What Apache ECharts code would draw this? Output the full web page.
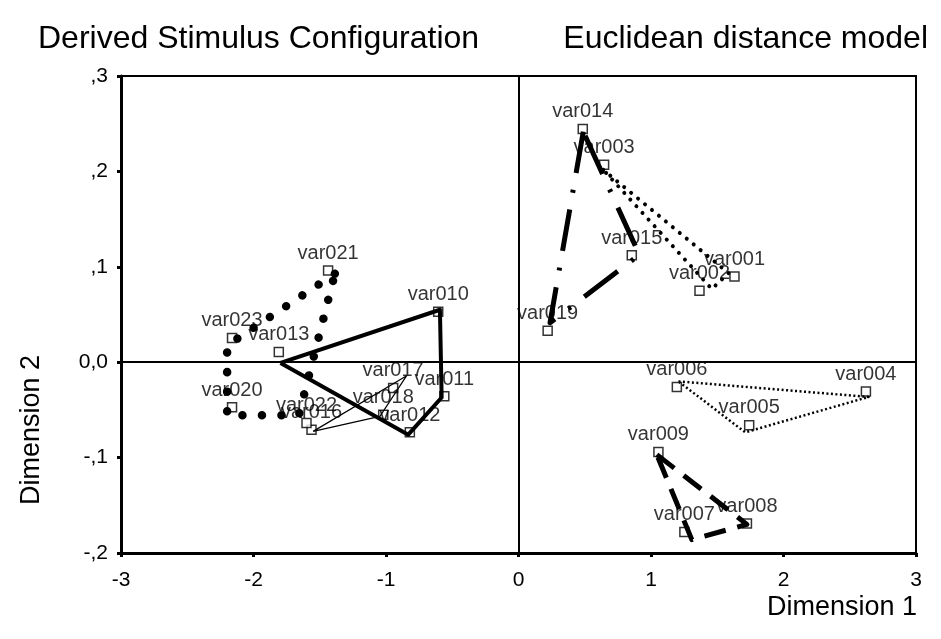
<!DOCTYPE html>
<html><head><meta charset="utf-8">
<script src="https://cdn.jsdelivr.net/npm/echarts@6/dist/echarts.min.js"></script>
<style>html,body{margin:0;padding:0;background:#fff}#c{width:941px;height:639px}</style>
</head><body><div id="c"></div>
<script>
const FONT = 'Liberation Sans';
const titleLeft = 'Derived Stimulus Configuration';
const titleRight = 'Euclidean distance model';
const xName = 'Dimension 1';
const yName = 'Dimension 2';

const pointNames = ['var001','var002','var003','var004','var005','var006','var007','var008','var009','var010','var011','var012','var013','var014','var015','var016','var017','var018','var019','var020','var021','var022','var023'];
const pointX = [1.63, 1.366, 0.646, 2.622, 1.741, 1.195, 1.252, 1.724, 1.056, -0.606, -0.56, -0.82, -1.809, 0.485, 0.855, -1.562, -0.946, -1.021, 0.22, -2.162, -1.437, -1.6, -2.162];
const pointY = [0.0898, 0.0749, 0.207, -0.0306, -0.066, -0.026, -0.178, -0.169, -0.094, 0.053, -0.0358, -0.0735, 0.0107, 0.2445, 0.112, -0.0707, -0.027, -0.055, 0.033, -0.0473, 0.096, -0.0637, 0.0253];

// hand-drawn group outlines (vertices in data units)
const groupBigDotsX = [-1.386, -2.199, -2.199, -1.658, -1.386];
const groupBigDotsY = [0.0927, 0.0176, -0.0557, -0.0557, 0.0927];
const groupThickX = [-1.796, -0.593, -0.58, -0.832, -1.796];
const groupThickY = [-0.0008, 0.055, -0.037, -0.076, -0.0008];
const groupThinX = [-1.55, -0.844, -1.046, -1.55];
const groupThinY = [-0.0725, -0.0141, -0.0568, -0.0725];
const groupDashDotX = [0.489, 0.238, 0.912, 0.489];
const groupDashDotY = [0.2417, 0.0414, 0.1126, 0.2417];
const groupDotsX = [0.64, 1.585, 1.459, 0.64];
const groupDotsY = [0.2016, 0.0934, 0.0767, 0.2016];
const groupFineDotsX = [1.207, 2.642, 1.711, 1.207];
const groupFineDotsY = [-0.0201, -0.0364, -0.0735, -0.0201];
const groupDashX = [1.044, 1.724, 1.308, 1.044];
const groupDashY = [-0.0969, -0.170, -0.186, -0.0969];

const xTicks = [-3, -2, -1, 0, 1, 2, 3];
const xTickLabels = ['-3', '-2', '-1', '0', '1', '2', '3'];
const yTicks = [-0.2, -0.1, 0, 0.1, 0.2, 0.3];
const yTickLabels = ['-,2', '-,1', '0,0', ',1', ',2', ',3'];

function pairs(xs, ys) { return xs.map((x, i) => [x, ys[i]]); }
function labelFor(ticks, labels, v) {
  for (let i = 0; i < ticks.length; i++) if (Math.abs(ticks[i] - v) < 1e-6) return labels[i];
  return '';
}
function outline(xs, ys, width, type, cap) {
  return {
    type: 'line', data: pairs(xs, ys), showSymbol: false, symbol: 'none', silent: true, z: 5,
    lineStyle: { color: '#000', width: width, type: type, cap: cap || 'butt', join: 'round' }
  };
}

const chart = echarts.init(document.getElementById('c'), null, { renderer: 'canvas' });
chart.setOption({
  animation: false,
  backgroundColor: '#fff',
  title: [
    { text: titleLeft, left: 33, top: 18, textStyle: { fontFamily: FONT, fontSize: 32, fontWeight: 'normal', color: '#000' } },
    { text: titleRight, right: 8, top: 18, textStyle: { fontFamily: FONT, fontSize: 32, fontWeight: 'normal', color: '#000' } }
  ],
  grid: { left: 121, right: 25, top: 76, bottom: 86, show: true, borderColor: '#000', borderWidth: 2, containLabel: false },
  xAxis: {
    type: 'value', min: -3, max: 3, interval: 1,
    axisLine: { onZero: false, lineStyle: { color: '#000', width: 3 } },
    axisTick: { show: true, length: 4, lineStyle: { color: '#000', width: 3 } },
    axisLabel: { fontFamily: FONT, fontSize: 21, color: '#000', margin: 17, formatter: v => labelFor(xTicks, xTickLabels, v) },
    splitLine: { show: false }
  },
  yAxis: {
    type: 'value', min: -0.2, max: 0.3, interval: 0.1,
    axisLine: { onZero: false, lineStyle: { color: '#000', width: 3 } },
    axisTick: { show: true, length: 4, lineStyle: { color: '#000', width: 3 } },
    axisLabel: { fontFamily: FONT, fontSize: 21, color: '#000', margin: 13, formatter: v => labelFor(yTicks, yTickLabels, v) },
    splitLine: { show: false }
  },
  graphic: [
    {
      type: 'text', x: 32, y: 430, rotation: Math.PI / 2,
      style: { text: yName, fontFamily: FONT, fontSize: 27, fill: '#000', textAlign: 'center', textVerticalAlign: 'middle' }
    },
    {
      type: 'text', x: 917, y: 608,
      style: { text: xName, fontFamily: FONT, fontSize: 27, fill: '#000', textAlign: 'right', textVerticalAlign: 'middle' }
    }
  ],
  series: [
    {
      type: 'scatter', z: 2,
      data: pointNames.map((n, i) => ({ name: n, value: [pointX[i], pointY[i]] })),
      symbol: 'rect', symbolSize: 9,
      itemStyle: { color: '#fff', borderColor: '#000', borderWidth: 1.5 },
      label: { show: true, position: 'top', distance: 2, formatter: '{b}', fontFamily: FONT, fontSize: 20, color: '#000' },
      markLine: {
        silent: true, symbol: 'none', label: { show: false },
        lineStyle: { color: '#000', width: 2, type: 'solid' },
        data: [{ xAxis: 0 }, { yAxis: 0 }]
      }
    },
    outline(groupBigDotsX, groupBigDotsY, 8.5, [0.01, 19.5], 'round'),
    outline(groupThickX, groupThickY, 4, 'solid'),
    outline(groupThinX, groupThinY, 1.2, 'solid'),
    outline(groupDashDotX, groupDashDotY, 5, [42, 17, 3, 17]),
    outline(groupDotsX, groupDotsY, 4, [0.01, 9], 'round'),
    outline(groupFineDotsX, groupFineDotsY, 2.5, [2, 2.5]),
    outline(groupDashX, groupDashY, 5, [22, 12])
  ]
});
</script></body></html>
